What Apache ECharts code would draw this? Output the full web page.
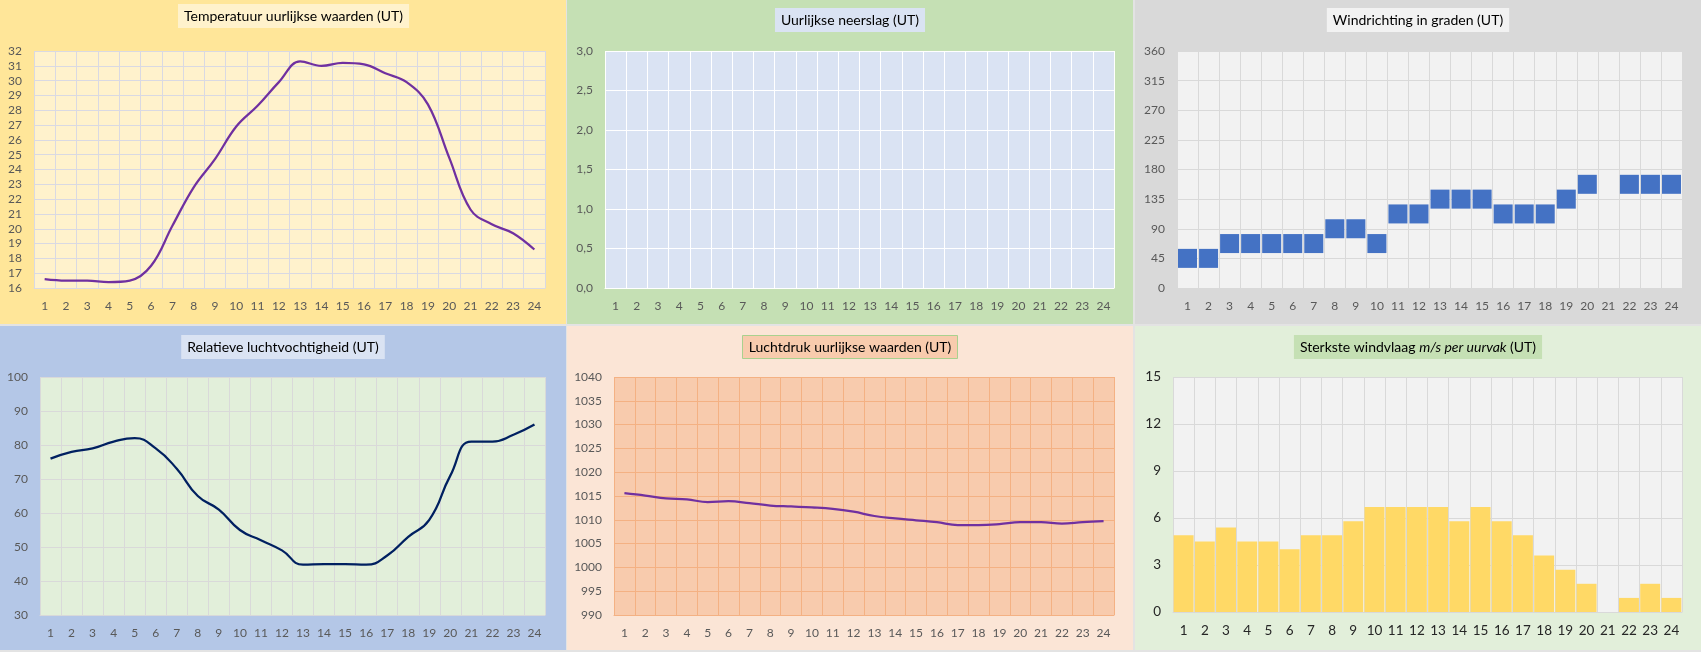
<!DOCTYPE html>
<html>
<head>
<meta charset="utf-8">
<script src="https://cdn.jsdelivr.net/npm/echarts@6/dist/echarts.min.js"></script>
<style>
  html, body { margin: 0; padding: 0; background: #e3e3e3; }
  #wrap { position: relative; width: 1701px; height: 652px; }
  .paneel { position: absolute; width: 566px; height: 324px; }
</style>
</head>
<body>
<div id="wrap">
  <div class="paneel" id="temp" style="left:0;top:0;background:#ffe699"></div>
  <div class="paneel" id="neerslag" style="left:567px;top:0;background:#c5e0b4"></div>
  <div class="paneel" id="richting" style="left:1135px;top:0;background:#d9d9d9"></div>
  <div class="paneel" id="vocht" style="left:0;top:326px;background:#b4c7e7"></div>
  <div class="paneel" id="druk" style="left:567px;top:326px;background:#fbe5d6"></div>
  <div class="paneel" id="vlaag" style="left:1135px;top:326px;background:#e2efda"></div>
</div>
<script>
// uren (UT)
const uren = ['1','2','3','4','5','6','7','8','9','10','11','12','13','14','15','16','17','18','19','20','21','22','23','24']

// meetwaarden per uur
const temperatuur = [16.6, 16.5, 16.5, 16.4, 16.5, 17.5, 20.2, 22.8, 24.7, 26.9, 28.3, 29.9, 31.3, 31.0, 31.2, 31.1, 30.5, 29.9, 28.4, 24.8, 21.3, 20.3, 19.7, 18.6]
const neerslag = [0, 0, 0, 0, 0, 0, 0, 0, 0, 0, 0, 0, 0, 0, 0, 0, 0, 0, 0, 0, 0, 0, 0, 0]
const windrichting = [45, 45, 67.5, 67.5, 67.5, 67.5, 67.5, 90, 90, 67.5, 112.5, 112.5, 135, 135, 135, 112.5, 112.5, 112.5, 135, 157.5, null, 157.5, 157.5, 157.5]
const vochtigheid = [76, 78, 79, 81, 82, 79, 73, 65, 61, 55, 52, 49, 44.8, 45, 45, 44.8, 47.5, 53, 58, 71, 81, 81, 83, 86]
const luchtdruk = [1015.6, 1015.1, 1014.5, 1014.3, 1013.7, 1013.9, 1013.5, 1013.0, 1012.8, 1012.6, 1012.3, 1011.7, 1010.8, 1010.3, 1009.9, 1009.5, 1008.9, 1008.9, 1009.1, 1009.5, 1009.5, 1009.2, 1009.5, 1009.7]
const windvlaag = [4.9, 4.5, 5.4, 4.5, 4.5, 4.0, 4.9, 4.9, 5.8, 6.7, 6.7, 6.7, 6.7, 5.8, 6.7, 5.8, 4.9, 3.6, 2.7, 1.8, 0, 0.9, 1.8, 0.9]

const lettertype = 'Lato, "Noto Sans", sans-serif'

// gemeenschappelijke opbouw van een paneel
function maakOptie(cfg) {
    return {
        animation: false,
        textStyle: { fontFamily: lettertype },
        title: {
            text: cfg.titel,
            left: cfg.titelLinks || 'center',
            top: cfg.titelBoven,
            backgroundColor: cfg.titelKleur,
            borderColor: cfg.titelRand || 'transparent',
            borderWidth: cfg.titelRand ? 1 : 0,
            padding: [5, 6, 5, 6],
            textStyle: {
                fontFamily: lettertype,
                fontSize: 14,
                fontWeight: 'normal',
                color: '#000',
                rich: cfg.titelRich
            }
        },
        grid: {
            left: cfg.grid[0], right: cfg.grid[1], top: cfg.grid[2], bottom: cfg.grid[3],
            show: true,
            backgroundColor: cfg.plotKleur,
            borderWidth: 0
        },
        xAxis: {
            type: 'category',
            data: uren,
            boundaryGap: true,
            axisTick: { show: false },
            axisLine: { show: true, lineStyle: { color: cfg.rasterKleur, width: 1 } },
            splitLine: { show: true, interval: 0, lineStyle: { color: cfg.rasterKleur, width: 1 } },
            axisLabel: { interval: 0, color: cfg.labelKleur || '#595959', fontSize: cfg.labelGrootte || 12, margin: 12 }
        },
        yAxis: {
            type: 'value',
            min: cfg.min,
            max: cfg.max,
            interval: cfg.stap,
            axisLine: { show: false },
            axisTick: { show: false },
            splitLine: { show: true, lineStyle: { color: cfg.rasterKleur, width: 1 } },
            axisLabel: {
                color: cfg.labelKleur || '#595959', fontSize: cfg.labelGrootte || 12, margin: 12,
                formatter: cfg.yFormat || function (v) { return String(v) }
            }
        },
        series: cfg.series
    }
}

function teken(id, optie) {
    const chart = echarts.init(document.getElementById(id), null, { renderer: 'canvas' })
    chart.setOption(optie)
}

// Temperatuur
teken('temp', maakOptie({
    titel: 'Temperatuur uurlijkse waarden (UT)',
    titelLinks: 178, titelBoven: 4,
    titelKleur: '#fff2cc',
    grid: [34, 21, 51, 36],
    plotKleur: '#fff2cc', rasterKleur: '#d9d9e3',
    min: 16, max: 32, stap: 1,
    series: [{
        type: 'line', data: temperatuur, smooth: 0.4,
        showSymbol: false, lineStyle: { color: '#7030a0', width: 2.25 }
    }]
}))

// Neerslag
teken('neerslag', maakOptie({
    titel: 'Uurlijkse neerslag (UT)',
    titelBoven: 8,
    titelKleur: '#dae3f3',
    grid: [38, 19, 51, 36],
    plotKleur: '#dae3f3', rasterKleur: '#ffffff',
    min: 0, max: 3, stap: 0.5,
    yFormat: function (v) { return v.toFixed(1).replace('.', ',') },
    series: [{ type: 'bar', data: neerslag, itemStyle: { color: '#4472c4' } }]
}))

// Windrichting
teken('richting', maakOptie({
    titel: 'Windrichting in graden (UT)',
    titelBoven: 8,
    titelKleur: '#f2f2f2',
    grid: [42, 19, 51, 36],
    plotKleur: '#f2f2f2', rasterKleur: '#d9d9d9',
    min: 0, max: 360, stap: 45,
    series: [{
        type: 'line', data: windrichting, connectNulls: false,
        symbol: 'rect', symbolSize: 19, showAllSymbol: true,
        lineStyle: { width: 0, opacity: 0 },
        itemStyle: { color: '#4472c4', borderColor: '#4472c4', borderWidth: 0 }
    }]
}))

// Relatieve vochtigheid
teken('vocht', maakOptie({
    titel: 'Relatieve luchtvochtigheid (UT)',
    titelBoven: 9,
    titelKleur: '#dae3f3',
    grid: [40, 21, 51, 35],
    plotKleur: '#e2efda', rasterKleur: '#d9d9d9',
    min: 30, max: 100, stap: 10,
    series: [{
        type: 'line', data: vochtigheid, smooth: 0.5,
        showSymbol: false, lineStyle: { color: '#002060', width: 2.25 }
    }]
}))

// Luchtdruk
teken('druk', maakOptie({
    titel: 'Luchtdruk uurlijkse waarden (UT)',
    titelBoven: 9,
    titelKleur: '#f8cbad', titelRand: '#a9d18e',
    grid: [47, 19, 51, 35],
    plotKleur: '#f8cbad', rasterKleur: '#f4b183',
    min: 990, max: 1040, stap: 5,
    series: [{
        type: 'line', data: luchtdruk, smooth: 0.4,
        showSymbol: false, lineStyle: { color: '#7030a0', width: 2.25 }
    }]
}))

// Windvlaag
teken('vlaag', maakOptie({
    titel: '{a|Sterkste windvlaag }{b|m/s per uurvak}{a| (UT)}',
    titelRich: {
        a: { fontFamily: lettertype, fontSize: 14, color: '#000' },
        b: { fontFamily: lettertype, fontSize: 14, color: '#000', fontStyle: 'italic' }
    },
    titelBoven: 9,
    titelKleur: '#c5e0b4',
    grid: [38, 19, 51, 38],
    plotKleur: '#f2f2f2', rasterKleur: '#d9d9d9',
    labelKleur: '#262626', labelGrootte: 13.5,
    min: 0, max: 15, stap: 3,
    series: [{
        type: 'bar', data: windvlaag, barCategoryGap: '6%',
        itemStyle: { color: '#ffd966' }
    }]
}))
</script>
</body>
</html>
